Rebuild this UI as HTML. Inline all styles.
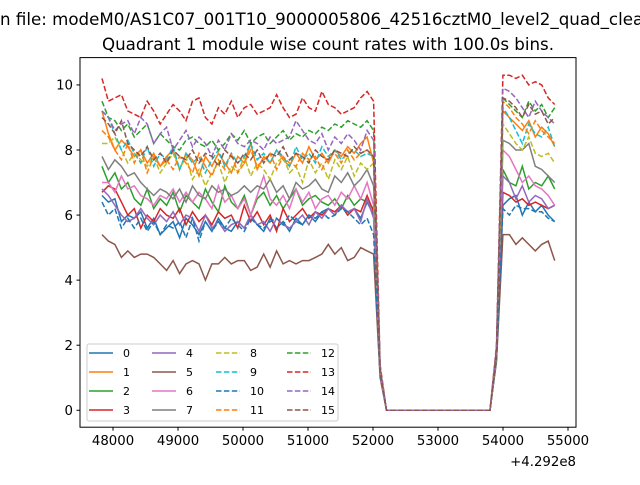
<!DOCTYPE html>
<html><head><meta charset="utf-8"><style>
body{margin:0;background:#fff}
svg{font-family:"DejaVu Sans","Liberation Sans",sans-serif}
</style></head><body>
<svg id="chart" width="640" height="480" viewBox="0 0 640 480" xmlns="http://www.w3.org/2000/svg">
<rect width="640" height="480" fill="#fff"/>
<text x="0" y="25" font-size="16.67" fill="#000">n file: modeM0/AS1C07_001T10_9000005806_42516cztM0_level2_quad_clean.evt</text>
<text x="328" y="50" font-size="16.67" text-anchor="middle" fill="#000">Quadrant 1 module wise count rates with 100.0s bins.</text>
<g id="plot"></g>
<rect x="80" y="57.6" width="496" height="369.6" fill="none" stroke="#000" stroke-width="1"/>
<g id="ticks"></g>
<text x="576" y="466" font-size="13.3" text-anchor="end">+4.292e8</text>
<g id="legend"></g>
</svg>
<script>
const xStart = 47830;
const xStep = 99.5;
const yTicks = [0,2,4,6,8,10];
const xTicks = [48000,49000,50000,51000,52000,53000,54000,55000];
const names = ['0','1','2','3','4','5','6','7','8','9','10','11','12','13','14','15'];
const colors = ['#1f77b4','#ff7f0e','#2ca02c','#d62728','#9467bd','#8c564b','#e377c2','#7f7f7f','#bcbd22','#17becf','#1f77b4','#ff7f0e','#2ca02c','#d62728','#9467bd','#8c564b'];
const s0 = [6.6,6.4,6.5,5.8,6.0,5.9,6.1,5.6,5.9,5.4,5.6,5.8,5.3,5.9,5.7,5.4,5.8,5.5,5.9,5.6,5.5,5.8,5.6,6.0,5.7,5.5,5.9,5.6,5.8,5.5,5.9,5.7,6.0,5.8,6.1,6.2,6.0,6.3,6.0,6.2,5.9,6.4,6.0,1.1,0,0,0,0,0,0,0,0,0,0,0,0,0,0,0,0,0,1.6,6.3,6.5,6.6,6.0,6.4,6.1,6.3,6.0,5.8];
const s1 = [9.2,8.5,8.0,8.3,8.1,7.8,8.0,7.6,7.9,7.5,7.8,8.0,7.4,7.9,7.7,7.2,7.8,7.5,7.9,7.6,7.3,7.8,7.6,8.2,7.4,7.8,7.6,8.0,7.7,7.5,7.9,7.6,8.1,7.7,7.9,7.6,8.0,7.8,8.1,7.9,8.2,8.4,7.6,1.2,0,0,0,0,0,0,0,0,0,0,0,0,0,0,0,0,0,1.8,9.2,9.0,8.8,8.6,8.9,8.4,8.7,8.5,8.1];
const s2 = [7.5,7.0,7.3,6.8,7.0,6.5,6.3,6.8,6.2,6.5,6.3,6.7,6.1,6.6,6.4,6.2,6.8,6.4,6.1,6.9,6.4,6.2,6.6,6.0,6.5,6.7,6.3,6.6,6.2,6.5,6.8,6.3,6.5,6.6,6.4,6.3,6.5,6.2,6.6,6.3,6.5,6.4,6.2,1.1,0,0,0,0,0,0,0,0,0,0,0,0,0,0,0,0,0,1.7,7.4,7.0,6.9,7.5,6.8,7.0,6.9,7.2,6.8];
const s3 = [6.7,6.9,6.8,6.4,6.0,6.2,5.6,6.0,5.8,6.2,6.0,5.9,6.2,5.7,6.1,5.8,6.0,5.7,6.1,5.9,6.0,5.6,6.3,5.8,6.1,5.7,6.0,5.5,6.2,5.8,6.0,6.2,5.9,6.1,6.0,6.2,6.1,6.3,6.0,6.2,6.1,6.6,6.1,1.1,0,0,0,0,0,0,0,0,0,0,0,0,0,0,0,0,0,1.6,6.7,6.6,6.4,6.5,6.3,6.4,6.3,6.2,6.3];
const s4 = [6.8,6.6,6.3,6.0,5.8,5.9,6.2,5.9,5.7,6.0,5.8,6.1,5.7,6.0,5.9,5.5,6.0,5.6,5.8,5.5,5.7,5.8,5.6,6.0,5.7,5.8,5.5,5.9,5.7,5.6,5.8,6.0,5.7,6.1,5.9,6.2,6.0,6.3,6.1,6.2,5.8,6.5,5.9,1.1,0,0,0,0,0,0,0,0,0,0,0,0,0,0,0,0,0,1.6,7.2,7.0,6.5,6.9,6.4,6.6,6.5,6.2,6.3];
const s5 = [5.4,5.2,5.1,4.7,4.9,4.7,4.8,4.8,4.7,4.5,4.3,4.6,4.2,4.5,4.6,4.5,4.0,4.5,4.5,4.7,4.5,4.6,4.6,4.3,4.4,4.8,4.4,4.9,4.5,4.6,4.5,4.6,4.6,4.7,4.8,5.1,4.8,5.0,4.6,4.7,5.0,4.9,4.8,1.0,0,0,0,0,0,0,0,0,0,0,0,0,0,0,0,0,0,1.5,5.4,5.4,5.1,5.3,5.1,4.9,5.1,5.2,4.6];
const s6 = [7.0,7.0,6.7,7.2,6.8,6.9,6.6,6.5,6.3,6.6,6.5,6.8,6.4,6.7,6.4,6.7,6.5,6.2,6.9,6.4,6.6,6.2,6.5,6.0,6.6,7.2,6.5,6.3,6.6,6.2,6.8,6.4,6.7,6.2,6.5,6.6,6.3,6.7,6.5,6.9,6.5,7.0,6.3,1.1,0,0,0,0,0,0,0,0,0,0,0,0,0,0,0,0,0,1.7,8.0,7.8,7.4,7.0,7.2,6.9,6.8,6.6,6.3];
const s7 = [7.8,7.4,7.7,7.5,7.2,7.3,7.0,6.8,6.6,6.8,6.7,6.5,6.8,6.4,6.9,6.6,6.5,6.9,6.7,6.8,6.6,6.7,6.9,6.7,6.9,6.8,7.1,6.7,6.9,6.5,7.0,6.8,6.9,7.1,6.8,6.7,7.2,7.0,7.3,6.9,7.1,7.4,6.9,1.2,0,0,0,0,0,0,0,0,0,0,0,0,0,0,0,0,0,1.7,8.3,8.2,8.0,8.0,8.2,7.5,7.4,7.2,7.0];
const s8 = [8.2,8.2,8.4,8.0,7.6,7.9,7.7,7.5,7.8,7.3,7.6,7.9,7.4,7.8,7.1,7.4,6.9,7.3,7.6,7.0,7.5,7.3,7.8,7.2,7.6,7.4,7.1,7.6,7.8,7.3,7.5,7.0,7.7,7.3,7.6,7.1,7.7,7.4,7.8,7.2,7.6,7.4,7.6,1.2,0,0,0,0,0,0,0,0,0,0,0,0,0,0,0,0,0,1.7,8.8,8.5,8.2,8.0,8.4,7.9,7.8,7.9,7.6];
const s9 = [9.2,9.0,8.5,8.0,8.3,7.9,7.6,8.1,7.5,7.9,7.7,8.1,7.4,7.9,7.6,7.8,7.3,7.7,8.0,7.5,7.9,7.6,7.8,8.2,7.7,7.9,7.6,8.0,7.8,7.5,8.1,7.7,7.9,7.6,8.1,7.8,8.0,7.7,7.9,8.0,7.8,7.9,7.8,1.2,0,0,0,0,0,0,0,0,0,0,0,0,0,0,0,0,0,1.8,9.3,9.0,8.6,8.2,8.8,8.5,8.4,8.7,8.1];
const s10 = [6.4,6.0,6.2,5.6,5.9,5.6,5.9,5.5,5.8,5.4,5.7,5.6,5.8,5.3,5.9,5.2,5.8,5.5,5.8,5.6,5.9,5.7,5.5,5.9,5.7,5.6,5.8,5.9,5.7,6.0,5.8,5.7,6.0,5.9,6.1,5.9,6.0,6.2,6.1,5.9,5.7,5.9,5.4,1.1,0,0,0,0,0,0,0,0,0,0,0,0,0,0,0,0,0,1.6,6.2,6.0,6.3,6.2,6.2,6.1,6.1,5.9,5.8];
const s11 = [8.6,8.4,8.0,7.7,8.2,7.6,8.0,7.3,7.8,7.5,7.7,7.4,7.8,7.6,7.3,7.9,7.5,7.2,7.7,7.4,7.9,7.3,7.6,8.0,7.5,7.7,7.9,7.4,7.8,7.6,7.5,7.9,7.7,7.8,7.4,7.8,7.9,7.6,8.0,7.7,7.9,8.0,7.8,1.2,0,0,0,0,0,0,0,0,0,0,0,0,0,0,0,0,0,1.8,9.5,9.3,9.0,8.8,8.5,8.9,8.6,8.4,8.2];
const s12 = [9.5,9.0,8.9,8.6,8.8,8.4,8.6,8.8,8.2,8.5,8.3,8.1,8.0,8.3,8.4,8.2,8.1,8.3,8.0,8.2,8.5,8.3,8.6,8.2,8.4,8.5,8.2,8.4,8.6,8.3,8.5,8.4,8.6,8.5,8.7,8.6,8.8,8.7,8.9,8.8,8.7,8.9,8.6,1.3,0,0,0,0,0,0,0,0,0,0,0,0,0,0,0,0,0,1.9,9.6,9.4,9.2,9.0,9.5,9.2,9.4,9.0,9.3];
const s13 = [10.2,9.5,9.6,9.7,9.2,9.1,9.0,9.5,9.2,8.8,9.1,9.4,9.2,8.9,9.5,9.6,9.0,8.8,9.3,9.1,9.5,9.0,9.3,9.4,9.1,9.2,9.3,9.7,9.3,9.0,9.1,9.6,9.3,9.2,9.8,9.4,9.3,9.1,9.2,9.3,9.6,9.8,9.5,1.4,0,0,0,0,0,0,0,0,0,0,0,0,0,0,0,0,0,2.0,10.3,10.3,10.2,10.3,10.0,10.1,10.0,9.6,9.4];
const s14 = [9.2,9.0,8.6,8.8,8.9,8.5,9.0,8.8,8.2,8.5,8.7,8.0,8.3,8.6,8.1,8.4,8.2,7.8,8.3,8.0,8.5,8.2,8.1,8.3,8.2,8.0,8.4,8.2,8.3,8.4,8.9,8.6,8.3,8.2,8.5,8.0,8.4,8.2,8.5,8.3,8.0,8.6,8.3,1.3,0,0,0,0,0,0,0,0,0,0,0,0,0,0,0,0,0,1.9,9.9,9.8,9.6,9.3,9.0,9.5,9.2,9.0,8.8];
const s15 = [9.0,8.8,8.5,8.9,8.2,8.0,7.8,8.1,7.7,7.9,7.6,8.0,7.8,7.7,8.0,7.6,7.9,7.8,7.5,8.0,7.8,7.6,7.9,7.7,8.0,7.6,7.9,7.8,8.1,7.7,7.9,7.8,7.6,8.0,7.8,7.7,8.0,7.9,7.8,8.1,7.9,8.0,7.8,1.2,0,0,0,0,0,0,0,0,0,0,0,0,0,0,0,0,0,1.8,9.6,9.5,9.3,9.0,9.4,9.1,9.2,8.8,9.0];
const series = [s0,s1,s2,s3,s4,s5,s6,s7,s8,s9,s10,s11,s12,s13,s14,s15];

const NS = 'http://www.w3.org/2000/svg';
const L = 80, R = 576, T = 57.6, B = 427.2;
const xMin = 47492, xMax = 55123, yMin = -0.52, yMax = 10.84;
function xs(v){ return L + (v - xMin) / (xMax - xMin) * (R - L); }
function ys(v){ return B - (v - yMin) / (yMax - yMin) * (B - T); }

const plot = document.getElementById('plot');
series.forEach((s, k) => {
  const pts = s.map((v, i) => xs(xStart + i * xStep).toFixed(1) + ',' + ys(v).toFixed(1)).join(' ');
  const pl = document.createElementNS(NS, 'polyline');
  pl.setAttribute('points', pts);
  pl.setAttribute('fill', 'none');
  pl.setAttribute('stroke', colors[k]);
  pl.setAttribute('stroke-width', '1.5');
  if (k >= 8) pl.setAttribute('stroke-dasharray', '5.5,2.4');
  
  
  plot.appendChild(pl);
});

const ticks = document.getElementById('ticks');
yTicks.forEach(v => {
  const y = ys(v);
  const ln = document.createElementNS(NS, 'line');
  ln.setAttribute('x1', L); ln.setAttribute('x2', L - 3.5);
  ln.setAttribute('y1', y); ln.setAttribute('y2', y);
  ln.setAttribute('stroke', '#000');
  
  
  ticks.appendChild(ln);
  const t = document.createElementNS(NS, 'text');
  t.setAttribute('x', L - 7); t.setAttribute('y', y + 4.8);
  t.setAttribute('text-anchor', 'end'); t.setAttribute('font-size', '13.3');
  t.textContent = v;
  
  
  ticks.appendChild(t);
});
xTicks.forEach(v => {
  const x = xs(v);
  const ln = document.createElementNS(NS, 'line');
  ln.setAttribute('x1', x); ln.setAttribute('x2', x);
  ln.setAttribute('y1', B); ln.setAttribute('y2', B + 3.5);
  ln.setAttribute('stroke', '#000');
  
  
  ticks.appendChild(ln);
  const t = document.createElementNS(NS, 'text');
  t.setAttribute('x', x); t.setAttribute('y', B + 18);
  t.setAttribute('text-anchor', 'middle'); t.setAttribute('font-size', '13.3');
  t.textContent = v;
  
  
  ticks.appendChild(t);
});

const lg = document.getElementById('legend');
const box = document.createElementNS(NS, 'rect');
box.setAttribute('x', 87); box.setAttribute('y', 344); box.setAttribute('width', 251); box.setAttribute('height', 77);
box.setAttribute('rx', 2); box.setAttribute('fill', '#fff'); box.setAttribute('fill-opacity', '0.8');
box.setAttribute('stroke', '#ccc');


lg.appendChild(box);
const colX = [89, 152, 216, 287];
names.forEach((n, k) => {
  const c = Math.floor(k / 4), r = k % 4;
  const y = 353 + r * 19;
  const ln = document.createElementNS(NS, 'line');
  ln.setAttribute('x1', colX[c]); ln.setAttribute('x2', colX[c] + 24);
  ln.setAttribute('y1', y); ln.setAttribute('y2', y);
  ln.setAttribute('stroke', colors[k]); ln.setAttribute('stroke-width', '1.5');
  if (k >= 8) ln.setAttribute('stroke-dasharray', '5.5,2.4');
  
  
  lg.appendChild(ln);
  const t = document.createElementNS(NS, 'text');
  t.setAttribute('x', colX[c] + 34); t.setAttribute('y', y + 4);
  t.setAttribute('font-size', '11');
  t.textContent = n;
  
  
  lg.appendChild(t);
});
</script>
</body></html>
